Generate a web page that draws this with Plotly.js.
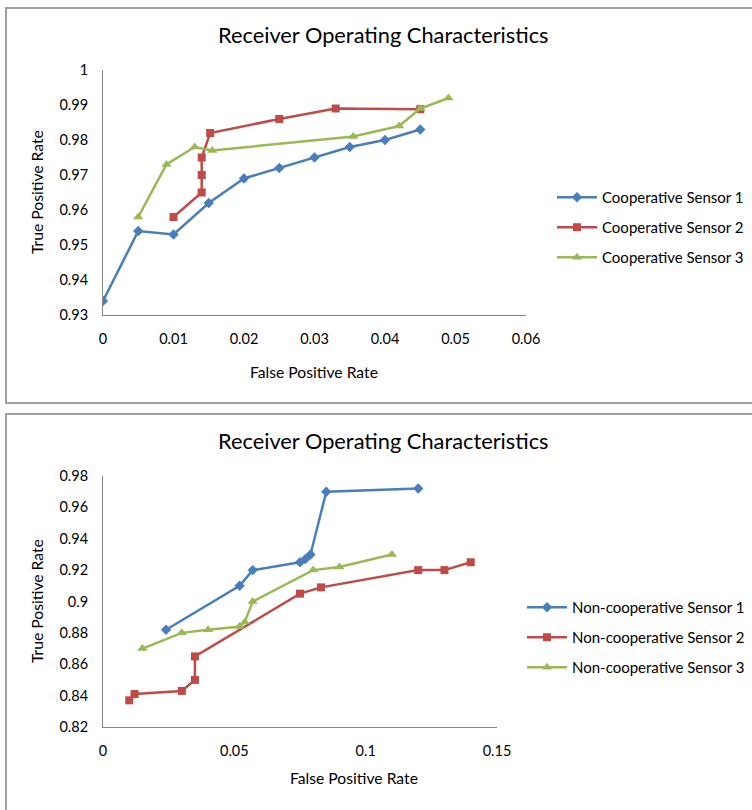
<!DOCTYPE html>
<html>
<head>
<meta charset="utf-8">
<script src="https://cdn.plot.ly/plotly-3.0.1.min.js"></script>
<style>html,body{margin:0;padding:0;background:#fff;}#chart{width:752px;height:810px;}</style>
</head>
<body>
<div id="chart"></div>
<script>
// ---- Data: cooperative sensors (top chart) ----
var coop1_fpr = [0, 0.005, 0.010, 0.015, 0.020, 0.025, 0.030, 0.035, 0.040, 0.045];
var coop1_tpr = [0.934, 0.954, 0.953, 0.962, 0.969, 0.972, 0.975, 0.978, 0.980, 0.983];
var coop2_fpr = [0.010, 0.014, 0.014, 0.014, 0.0152, 0.025, 0.033, 0.045];
var coop2_tpr = [0.958, 0.965, 0.970, 0.975, 0.982, 0.986, 0.989, 0.9888];
var coop3_fpr = [0.005, 0.009, 0.013, 0.0155, 0.0355, 0.042, 0.045, 0.049];
var coop3_tpr = [0.958, 0.973, 0.978, 0.977, 0.981, 0.984, 0.989, 0.992];

// ---- Data: non-cooperative sensors (bottom chart) ----
var non1_fpr = [0.024, 0.052, 0.057, 0.075, 0.077, 0.079, 0.085, 0.120];
var non1_tpr = [0.882, 0.910, 0.920, 0.925, 0.927, 0.930, 0.970, 0.972];
var non2_fpr = [0.010, 0.012, 0.030, 0.035, 0.035, 0.075, 0.083, 0.120, 0.130, 0.140];
var non2_tpr = [0.837, 0.841, 0.843, 0.850, 0.865, 0.905, 0.909, 0.920, 0.920, 0.925];
var non3_fpr = [0.015, 0.030, 0.040, 0.052, 0.054, 0.057, 0.080, 0.090, 0.110];
var non3_tpr = [0.870, 0.880, 0.882, 0.884, 0.887, 0.900, 0.920, 0.922, 0.930];

var names_top = ['Cooperative Sensor 1', 'Cooperative Sensor 2', 'Cooperative Sensor 3'];
var names_bot = ['Non-cooperative Sensor 1', 'Non-cooperative Sensor 2', 'Non-cooperative Sensor 3'];
var chartTitle = 'Receiver Operating Characteristics';
var xTitle = 'False Positive Rate';
var yTitle = 'True Positive Rate';

var colors = ['#4A7EBB', '#BE4B48', '#98B954'];
var symbols = ['diamond', 'square', 'triangle-up'];
var msizes = [8, 8, 9];

function mk(x, y, i, name, xa, ya, leg, grp) {
  return {
    type: 'scatter', mode: 'lines+markers', x: x, y: y, name: name,
    xaxis: xa, yaxis: ya, legend: leg, legendgroup: grp,
    line: {color: colors[i], width: 2.5},
    marker: {color: colors[i], symbol: symbols[i], size: msizes[i]},
    hoverinfo: 'x+y+name'
  };
}

var data = [
  mk(coop1_fpr, coop1_tpr, 0, names_top[0], 'x', 'y', 'legend', 'a1'),
  mk(coop2_fpr, coop2_tpr, 1, names_top[1], 'x', 'y', 'legend', 'a2'),
  mk(coop3_fpr, coop3_tpr, 2, names_top[2], 'x', 'y', 'legend', 'a3'),
  mk(non1_fpr, non1_tpr, 0, names_bot[0], 'x2', 'y2', 'legend2', 'b1'),
  mk(non2_fpr, non2_tpr, 1, names_bot[1], 'x2', 'y2', 'legend2', 'b2'),
  mk(non3_fpr, non3_tpr, 2, names_bot[2], 'x2', 'y2', 'legend2', 'b3')
];

var W = 752, H = 810;
function px(x) { return x / W; }
function py(y) { return 1 - y / H; }

var axisCommon = {
  showgrid: false, zeroline: false, showline: true, linecolor: '#868686', linewidth: 1,
  ticks: '', tickfont: {size: 14.5, color: '#000'}, fixedrange: true
};

function hline(x0, x1, y) {
  return {type: 'line', xref: 'paper', yref: 'paper', x0: px(x0), x1: px(x1), y0: py(y), y1: py(y), line: {color: '#A0A0A0', width: 2}, layer: 'below'};
}
function vline(x, y0, y1) {
  return {type: 'line', xref: 'paper', yref: 'paper', x0: px(x), x1: px(x), y0: py(y0), y1: py(y1), line: {color: '#A0A0A0', width: 2}, layer: 'below'};
}

var layout = {
  width: W, height: H,
  margin: {l: 0, r: 0, t: 0, b: 0},
  paper_bgcolor: '#fff', plot_bgcolor: '#fff',
  font: {family: 'Lato, "Open Sans", sans-serif', color: '#000', size: 14},
  showlegend: true,
  xaxis: Object.assign({}, axisCommon, {domain: [px(103), px(526)], range: [0, 0.06], dtick: 0.01, tick0: 0, anchor: 'y', ticklabelstandoff: 11}),
  yaxis: Object.assign({}, axisCommon, {domain: [py(315), py(70)], range: [0.93, 1], dtick: 0.01, tick0: 0, anchor: 'x', ticklabelstandoff: 11}),
  xaxis2: Object.assign({}, axisCommon, {domain: [px(103), px(497)], range: [0, 0.15], dtick: 0.05, tick0: 0, anchor: 'y2', ticklabelstandoff: 11}),
  yaxis2: Object.assign({}, axisCommon, {domain: [py(727), py(476)], range: [0.82, 0.98], dtick: 0.02, tick0: 0, anchor: 'x2', ticklabelstandoff: 11}),
  legend: {x: px(552), y: py(181), xanchor: 'left', yanchor: 'top', font: {size: 15}, tracegroupgap: 7.5, itemwidth: 40, bgcolor: 'rgba(0,0,0,0)'},
  legend2: {x: px(522), y: py(591), xanchor: 'left', yanchor: 'top', font: {size: 15}, tracegroupgap: 7.5, itemwidth: 40, bgcolor: 'rgba(0,0,0,0)'},
  annotations: [
    {text: chartTitle, xref: 'paper', yref: 'paper', x: px(384), y: py(35), xanchor: 'center', yanchor: 'middle', showarrow: false, font: {size: 21.8}},
    {text: chartTitle, xref: 'paper', yref: 'paper', x: px(384), y: py(441), xanchor: 'center', yanchor: 'middle', showarrow: false, font: {size: 21.8}},
    {text: xTitle, xref: 'paper', yref: 'paper', x: px(314), y: py(372), xanchor: 'center', yanchor: 'middle', showarrow: false, font: {size: 15.7}},
    {text: xTitle, xref: 'paper', yref: 'paper', x: px(354), y: py(778), xanchor: 'center', yanchor: 'middle', showarrow: false, font: {size: 15.7}},
    {text: yTitle, xref: 'paper', yref: 'paper', x: px(37), y: py(192), xanchor: 'center', yanchor: 'middle', showarrow: false, textangle: -90, font: {size: 15.7}},
    {text: yTitle, xref: 'paper', yref: 'paper', x: px(37), y: py(601), xanchor: 'center', yanchor: 'middle', showarrow: false, textangle: -90, font: {size: 15.7}}
  ],
  shapes: [
    hline(5, 752, 8), hline(5, 752, 403), vline(6, 8, 403),
    hline(5, 752, 414), vline(6, 414, 810)
  ]
};

Plotly.newPlot('chart', data, layout, {staticPlot: true, displayModeBar: false});
</script>
</body>
</html>
